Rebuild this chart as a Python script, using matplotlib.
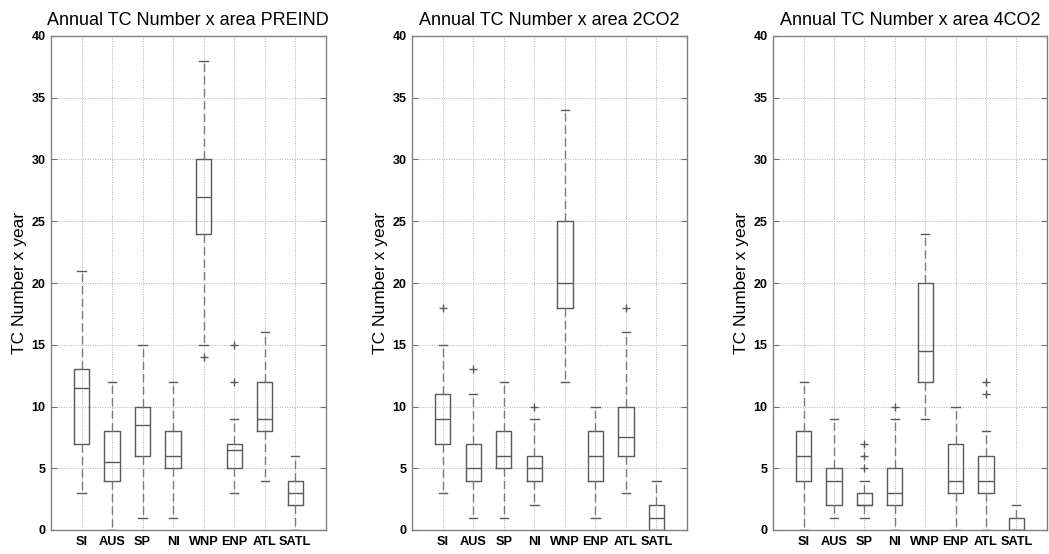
import numpy as np
import matplotlib
matplotlib.use("Agg")
import matplotlib.pyplot as plt

plt.rcParams["font.family"] = ["Liberation Sans", "DejaVu Sans"]

regions = ["SI", "AUS", "SP", "NI", "WNP", "ENP", "ATL", "SATL"]

# PREIND
preind_q1 = [7, 4, 6, 5, 24, 5, 8, 2]
preind_med = [11.5, 5.5, 8.5, 6, 27, 6.5, 9, 3]
preind_q3 = [13, 8, 10, 8, 30, 7, 12, 4]
preind_lo = [3, 0, 1, 1, 15, 3, 4, 0]
preind_hi = [21, 12, 15, 12, 38, 9, 16, 6]
preind_out = [[], [], [], [], [14], [12, 15], [], []]

# 2CO2
co2x2_q1 = [7, 4, 5, 4, 18, 4, 6, 0]
co2x2_med = [9, 5, 6, 5, 20, 6, 7.5, 1]
co2x2_q3 = [11, 7, 8, 6, 25, 8, 10, 2]
co2x2_lo = [3, 1, 1, 2, 12, 1, 3, 0]
co2x2_hi = [15, 11, 12, 9, 34, 10, 16, 4]
co2x2_out = [[18], [13], [], [10], [], [], [18], []]

# 4CO2
co2x4_q1 = [4, 2, 2, 2, 12, 3, 3, 0]
co2x4_med = [6, 4, 2, 3, 14.5, 4, 4, 0]
co2x4_q3 = [8, 5, 3, 5, 20, 7, 6, 1]
co2x4_lo = [0, 1, 1, 0, 9, 0, 0, 0]
co2x4_hi = [12, 9, 4, 9, 24, 10, 8, 2]
co2x4_out = [[], [], [5, 6, 7], [10], [], [], [11, 12], []]

panels = [
    ("PREIND", preind_q1, preind_med, preind_q3, preind_lo, preind_hi, preind_out),
    ("2CO2", co2x2_q1, co2x2_med, co2x2_q3, co2x2_lo, co2x2_hi, co2x2_out),
    ("4CO2", co2x4_q1, co2x4_med, co2x4_q3, co2x4_lo, co2x4_hi, co2x4_out),
]

W, H = 1049, 554
fig = plt.figure(figsize=(W / 100, H / 100), dpi=100)

# axes boxes in pixels: (left, right)
ax_px = [(51, 325.7), (412.3, 687), (773.3, 1046.7)]
top_px, bot_px = 36, 530

box_col = "#5a5a5a"
whisk_col = "#7a7a7a"

for (name, q1, med, q3, lo, hi, out), (l, r) in zip(panels, ax_px):
    ax = fig.add_axes([l / W, 1 - bot_px / H, (r - l) / W, (bot_px - top_px) / H])
    stats = []
    for i in range(len(regions)):
        stats.append(dict(q1=q1[i], med=med[i], q3=q3[i],
                          whislo=lo[i], whishi=hi[i], fliers=out[i],
                          label=regions[i]))
    ax.bxp(stats, positions=np.arange(1, 9), widths=0.5, capwidths=0.27,
           showfliers=True,
           boxprops=dict(color=box_col, linewidth=1.0),
           medianprops=dict(color=box_col, linewidth=1.0),
           whiskerprops=dict(color=whisk_col, linewidth=1.0, linestyle=(0, (6, 3))),
           capprops=dict(color=box_col, linewidth=1.0),
           flierprops=dict(marker="+", markeredgecolor=box_col,
                           markersize=6, markeredgewidth=1.0))
    ax.set_xlim(0, 9)
    ax.set_ylim(0, 40)
    ax.set_yticks(np.arange(0, 41, 5))
    ax.set_xticks(np.arange(1, 9))
    ax.set_xticklabels(regions)
    ax.grid(True, linestyle=(0, (1, 1.5)), color="#b0b0b0", linewidth=0.7)
    ax.set_axisbelow(True)
    ax.tick_params(axis="y", direction="in", length=4, right=True,
                   color="#707070", labelsize=9, pad=4)
    ax.tick_params(axis="x", length=0, labelsize=9.2, pad=4)
    for lab in ax.get_xticklabels() + ax.get_yticklabels():
        lab.set_fontweight("bold")
    for sp in ax.spines.values():
        sp.set_color("#808080")
        sp.set_linewidth(1.0)
    ax.set_title("Annual TC Number x area " + name, fontsize=13, pad=8)
    ax.set_ylabel("TC Number x year", fontsize=12.5, labelpad=3)

fig.savefig("out.png", dpi=100)
